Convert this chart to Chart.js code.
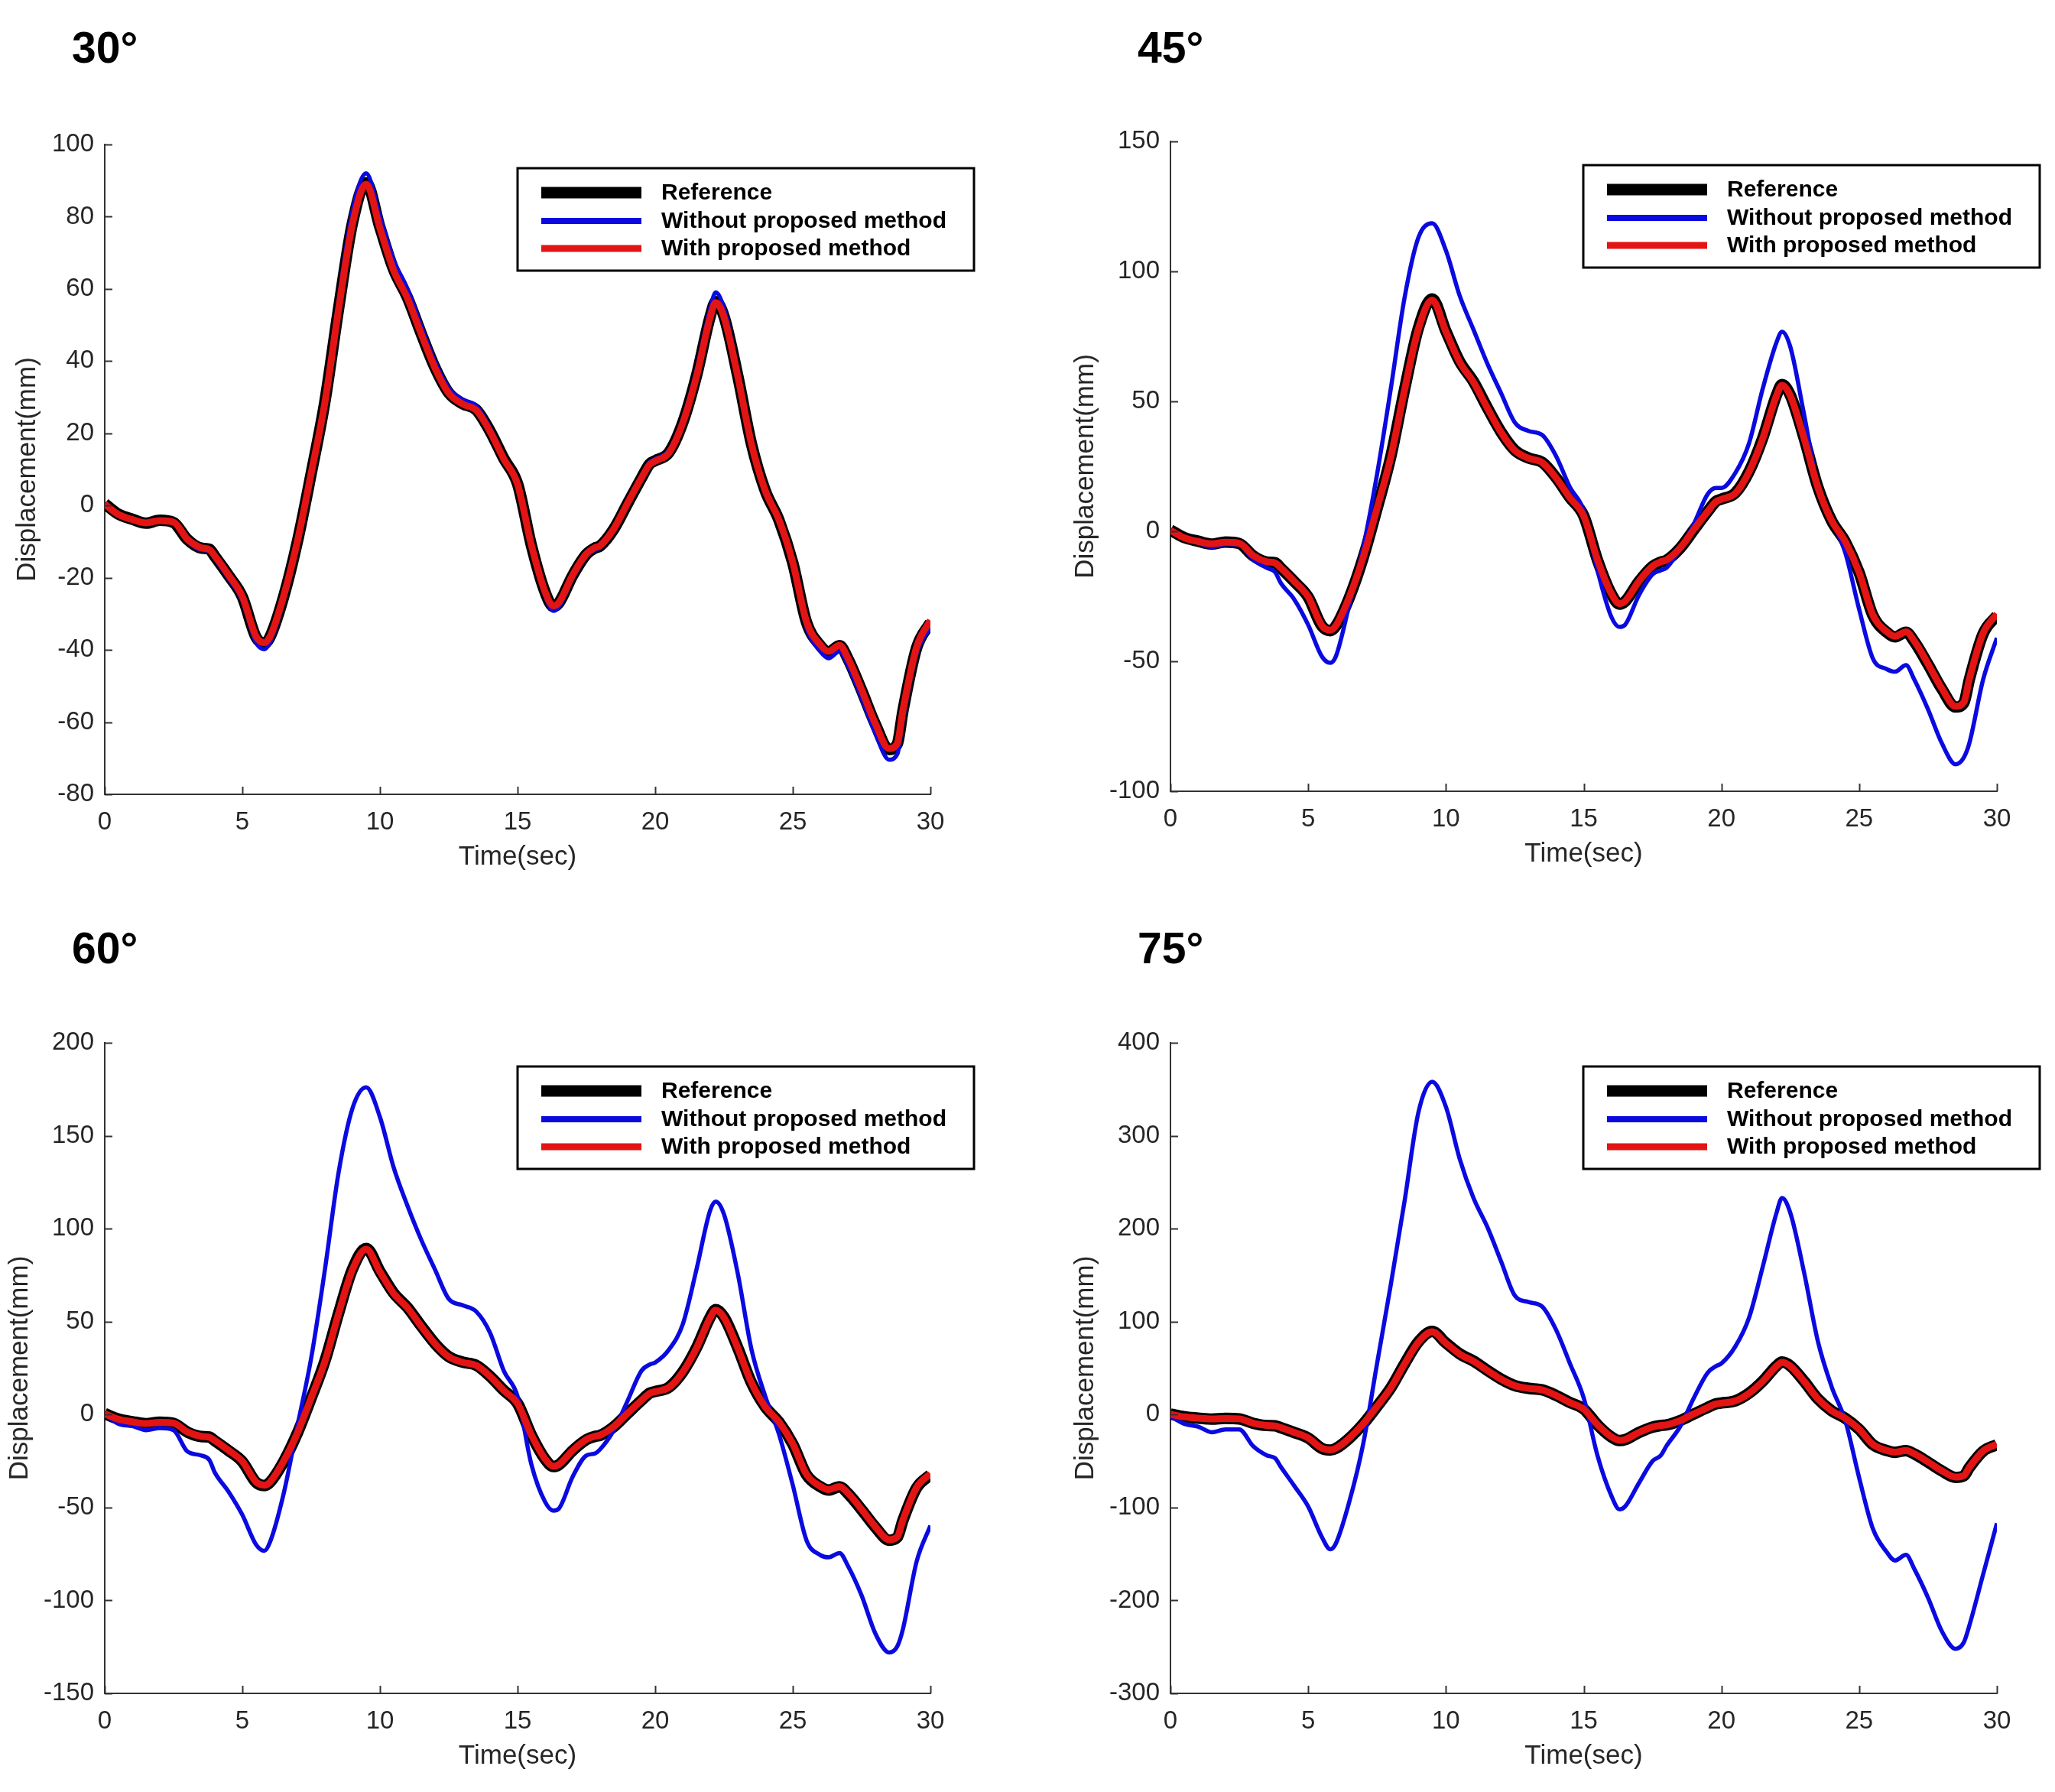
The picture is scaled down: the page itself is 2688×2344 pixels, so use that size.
<!DOCTYPE html>
<html>
<head>
<meta charset="utf-8">
<script src="https://cdn.jsdelivr.net/npm/chart.js@4.4.0/dist/chart.umd.min.js"></script>
<style>
html,body{margin:0;padding:0;background:#fff;}
#wrap{position:relative;width:2688px;height:2344px;overflow:hidden;background:#fff;}
.panel{position:absolute;width:1344px;height:1172px;}
canvas{display:block;}
</style>
</head>
<body>
<div id="wrap">
  <div class="panel" style="left:0;top:0"><canvas id="c30" width="1344" height="1172"></canvas></div>
  <div class="panel" style="left:1344px;top:0"><canvas id="c45" width="1344" height="1172"></canvas></div>
  <div class="panel" style="left:0;top:1172px"><canvas id="c60" width="1344" height="1172"></canvas></div>
  <div class="panel" style="left:1344px;top:1172px"><canvas id="c75" width="1344" height="1172"></canvas></div>
</div>
<script>
// ---------------- DATA ----------------
const timeSec = [0,0.5,1,1.5,2,2.5,3,3.5,3.8,4,4.5,5,5.5,5.8,6,6.5,7,7.5,8,8.5,9,9.5,10,10.5,11,11.5,12,12.5,13,13.5,14,14.5,15,15.5,16,16.3,16.5,17,17.5,17.8,18,18.5,19,19.5,19.8,20,20.5,21,21.5,22,22.2,22.5,23,23.5,24,24.5,25,25.5,26,26.3,26.7,27,27.5,28,28.5,28.8,29,29.5,30];

const reference = [0.5,-2.4,-3.8,-4.9,-4.1,-4.7,-9.4,-11.8,-12.1,-14.1,-19.4,-25.3,-36.5,-38.2,-36.5,-25.3,-10,8.8,28.8,54.7,78.2,89.4,77,65.3,57.6,47.6,38.2,31.2,28.2,26.5,20.6,13,6,-11,-24,-28,-27,-19.4,-13.5,-11.8,-11.2,-6.5,0.6,7.6,11.5,12.4,14.7,22.9,35.9,52.4,56.5,52.4,35.9,17,4.1,-4.1,-15.9,-32.4,-38.8,-40.6,-38.8,-42.4,-51.2,-60.6,-67.6,-66,-57,-39.4,-32.4];

const withProposed = [0.4,-2.5,-3.9,-4.8,-4.2,-4.6,-9.3,-11.7,-12.2,-14.0,-19.3,-25.2,-36.3,-38.0,-36.4,-25.1,-9.9,8.9,28.6,54.5,77.9,89.0,76.8,65.1,57.4,47.5,38.1,31.1,28.1,26.4,20.5,12.9,5.9,-10.9,-23.9,-27.8,-26.9,-19.3,-13.4,-11.7,-11.1,-6.4,0.7,7.6,11.4,12.3,14.6,22.8,35.7,52.2,56.2,52.2,35.8,17.0,4.1,-4.0,-15.8,-32.2,-38.6,-40.4,-38.7,-42.2,-51.0,-60.4,-67.3,-65.8,-56.8,-39.2,-31.8];

const without30 = [0.5,-2.5,-3.9,-5.1,-4.3,-4.9,-9.8,-12.3,-12.6,-14.7,-20.2,-26.4,-38,-39.8,-38,-26.4,-10.4,9.2,30,57,81.5,92,80,68,60,49.6,39.8,32.5,29.4,27.6,21.5,13.5,6.2,-11.5,-25,-29.2,-28.1,-20.2,-14.1,-12.3,-11.7,-6.8,0.6,7.9,12,12.9,15.3,23.9,37.4,54.6,59,54.6,37.4,17.7,4.3,-4.3,-16.6,-33.8,-40.4,-42.3,-40.4,-44.2,-53.3,-63.1,-70.4,-68.8,-59.4,-41,-33.7];

const without45 = [0,-2.8,-4.4,-6,-4.9,-5.2,-10.9,-14.1,-15.7,-19.8,-26.3,-36,-48.2,-50.6,-48.2,-27.9,-6,22,55,90,113,118.5,108,90.6,77.6,64.6,53.2,41.9,38.6,37,28.9,17,8,-15,-32.8,-36.8,-36,-24.7,-16.6,-15,-14.1,-6.8,2.9,14.3,16.7,16.7,22.4,33.8,54.9,72.7,76.8,71,45,17.5,4.5,-8.4,-30,-49,-53,-54,-51.5,-57,-68.5,-81.5,-89.6,-87,-81.5,-57,-41];

const without60 = [0,-5,-6.2,-8.4,-7.3,-8.4,-19.8,-22,-24.4,-31.2,-41.5,-54,-70,-73.3,-68.8,-42.6,-6.2,30.3,78,130.5,164.7,176,160,132.8,112.3,94,78,62.2,58.8,55.4,44,23.5,9.8,-26.7,-47,-51.7,-50.6,-33.5,-22,-21,-18.7,-8.4,7.5,23.5,26.9,28,34.9,48.5,78,110,114.6,107.7,75.9,34.9,9.8,-10.7,-38,-67.7,-75.6,-76.8,-74.5,-81.3,-97.3,-117.8,-128,-124.6,-115.5,-79,-59.7];

const without75 = [-2,-10,-13,-19,-16,-16,-34,-44,-47,-56,-77,-99,-132,-145,-139,-93,-31,55,140,230,325,358,331,275,233,202,165,128,121,116,91,55,18,-44,-87,-102,-99,-74,-50,-44,-34,-13,18,45,52,55,73,104,159,217,233,217,153,79,30,-7,-68,-123,-148,-157,-151,-166,-197,-233,-252,-245,-227,-172,-117];

const seriesLabels = ['Reference','Without proposed method','With proposed method'];
const panelTitles = ['30°','45°','60°','75°'];
const yMinValues = [-80,-100,-150,-300];
const yMaxValues = [100,150,200,400];
const yStepValues = [20,50,50,100];
const xAxisTitle = 'Time(sec)';
const yAxisTitle = 'Displacement(mm)';

// ---------------- LAYOUT / STYLE ----------------
const W = 1344, H = 1172;
const FONT = '"Liberation Sans", Arial, Helvetica, sans-serif';
const axisColor = '#333333';
const textColor = '#262626';
const lineColors = ['#000000', '#0a0ae0', '#e31414'];
const lineWidths = [15, 5.5, 9];
const legendLineWidths = [15, 8, 9];

const panels = [
  {id:'c30', without: without30, idx:0, area:{l:137,t:189,r:1217,b:1039}, yTitleX:36, titleX:94, titleY:82},
  {id:'c45', without: without45, idx:1, area:{l:187,t:185,r:1268,b:1035}, yTitleX:76, titleX:144, titleY:82},
  {id:'c60', without: without60, idx:2, area:{l:137,t:192,r:1217,b:1043}, yTitleX:26, titleX:94, titleY:88},
  {id:'c75', without: without75, idx:3, area:{l:187,t:192,r:1268,b:1043}, yTitleX:76, titleX:144, titleY:88}
];

const decor = {
  id: 'decor',
  afterDraw(chart, args, opts) {
    const ctx = chart.ctx;
    const a = chart.chartArea;
    ctx.save();
    // inward tick marks
    ctx.strokeStyle = axisColor;
    ctx.lineWidth = 2;
    const ys = chart.scales.y, xs = chart.scales.x;
    ys.ticks.forEach(t => {
      const y = Math.round(ys.getPixelForValue(t.value)) + 0.5;
      ctx.beginPath(); ctx.moveTo(a.left, y); ctx.lineTo(a.left + 10, y); ctx.stroke();
    });
    xs.ticks.forEach(t => {
      const x = Math.round(xs.getPixelForValue(t.value)) + 0.5;
      ctx.beginPath(); ctx.moveTo(x, a.bottom); ctx.lineTo(x, a.bottom - 10); ctx.stroke();
    });
    // legend box
    const bx = a.left + 540, by = a.top + 31, bw = 597, bh = 134;
    ctx.fillStyle = '#ffffff';
    ctx.fillRect(bx, by, bw, bh);
    ctx.strokeStyle = '#000000';
    ctx.lineWidth = 3;
    ctx.strokeRect(bx, by, bw, bh);
    const rows = [32, 69, 105];
    const dsIdx = [0, 1, 2];
    dsIdx.forEach((di, r) => {
      const ds = chart.data.datasets[di];
      const y = by + rows[r];
      ctx.strokeStyle = ds.borderColor;
      ctx.lineWidth = legendLineWidths[di];
      ctx.lineCap = 'butt';
      ctx.beginPath(); ctx.moveTo(bx + 31, y); ctx.lineTo(bx + 162, y); ctx.stroke();
      ctx.fillStyle = '#000000';
      ctx.font = 'bold 30px ' + FONT;
      ctx.textAlign = 'left';
      ctx.textBaseline = 'middle';
      ctx.fillText(ds.label, bx + 188, y + 1);
    });
    // panel title
    ctx.fillStyle = '#000000';
    ctx.font = 'bold 57px ' + FONT;
    ctx.textAlign = 'left';
    ctx.textBaseline = 'alphabetic';
    ctx.fillText(opts.title, opts.titleX, opts.titleY);
    ctx.restore();
  }
};

function pts(arr) { return timeSec.map((t, i) => ({x: t, y: arr[i]})); }

panels.forEach(p => {
  const A = p.area;
  new Chart(document.getElementById(p.id), {
    type: 'line',
    data: {
      datasets: [
        {label: seriesLabels[0], data: pts(reference), borderColor: lineColors[0], borderWidth: lineWidths[0], order: 3},
        {label: seriesLabels[1], data: pts(p.without), borderColor: lineColors[1], borderWidth: lineWidths[1], order: 2},
        {label: seriesLabels[2], data: pts(withProposed), borderColor: lineColors[2], borderWidth: lineWidths[2], order: 1}
      ]
    },
    plugins: [decor],
    options: {
      responsive: false,
      animation: false,
      devicePixelRatio: 1,
      layout: {padding: {left: 0, top: A.t, right: W - A.r, bottom: 0}},
      elements: {
        point: {radius: 0, hoverRadius: 0},
        line: {cubicInterpolationMode: 'monotone', fill: false, borderJoinStyle: 'round', borderCapStyle: 'butt'}
      },
      plugins: {
        legend: {display: false},
        tooltip: {enabled: false},
        decor: {title: panelTitles[p.idx], titleX: p.titleX, titleY: p.titleY}
      },
      scales: {
        x: {
          type: 'linear', min: 0, max: 30,
          ticks: {stepSize: 5, padding: 17, color: textColor, font: {family: FONT, size: 33}, maxRotation: 0, autoSkip: false},
          grid: {display: false, drawTicks: false},
          border: {display: true, color: axisColor, width: 2},
          title: {display: true, text: xAxisTitle, color: textColor, font: {family: FONT, size: 35}, padding: {top: 0, bottom: H - A.b - 82 - 21}},
          afterFit(s) { s.height = H - A.b; }
        },
        y: {
          type: 'linear', min: yMinValues[p.idx], max: yMaxValues[p.idx],
          ticks: {stepSize: yStepValues[p.idx], padding: 14, color: textColor, font: {family: FONT, size: 33}},
          grid: {display: false, drawTicks: false},
          border: {display: true, color: axisColor, width: 2},
          title: {display: true, text: yAxisTitle, color: textColor, font: {family: FONT, size: 35}, padding: {top: p.yTitleX - 21, bottom: 0}},
          afterFit(s) { s.width = A.l; }
        }
      }
    }
  });
});
</script>
</body>
</html>
